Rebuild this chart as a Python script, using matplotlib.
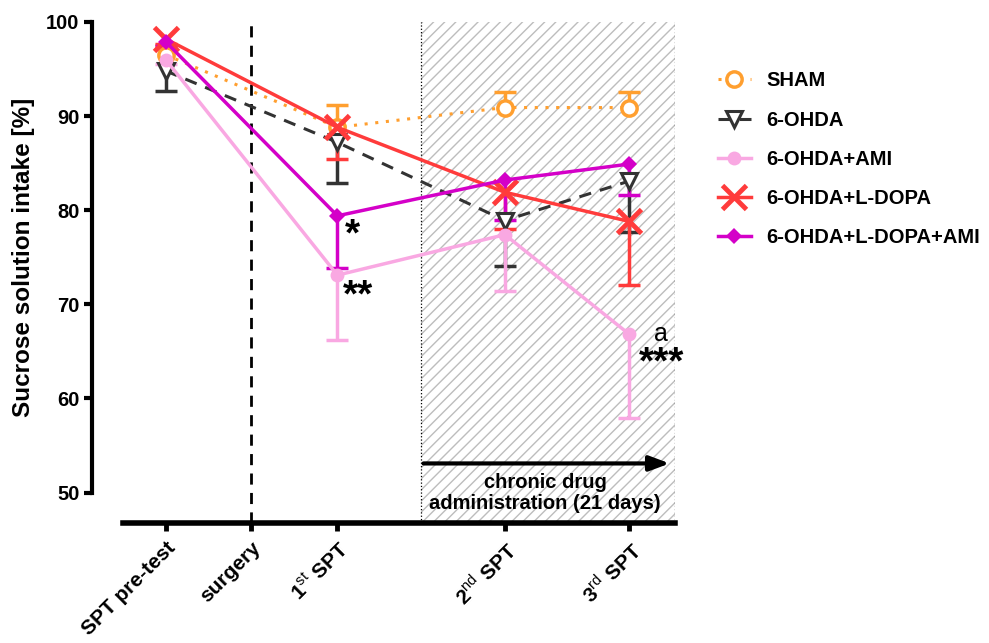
import matplotlib.pyplot as plt
import numpy as np

plt.rcParams['font.family'] = ['Liberation Sans', 'DejaVu Sans']
plt.rcParams['mathtext.fontset'] = 'custom'
plt.rcParams['mathtext.rm'] = 'Liberation Sans'
plt.rcParams['hatch.linewidth'] = 1.0

# x positions of the time points (surgery has no data)
x_pos = np.array([0, 2, 3.95, 5.4])
surgery_x = 1
tick_pos = [0, 1, 2, 3.95, 5.4]
tick_labels = ["SPT pre-test", "surgery", r"1$^{\rm st}$ SPT", r"2$^{\rm nd}$ SPT", r"3$^{\rm rd}$ SPT"]
y_ticks = [50, 60, 70, 80, 90, 100]

groups = ["SHAM", "6-OHDA", "6-OHDA+AMI", "6-OHDA+L-DOPA", "6-OHDA+L-DOPA+AMI"]
means = {
    "SHAM": [96.5, 88.8, 90.9, 90.9],
    "6-OHDA": [94.8, 87.2, 78.9, 83.1],
    "6-OHDA+AMI": [96.0, 73.1, 77.4, 66.8],
    "6-OHDA+L-DOPA": [98.2, 88.8, 81.9, 78.8],
    "6-OHDA+L-DOPA+AMI": [97.9, 79.4, 83.2, 84.9],
}
# one-sided SEM as drawn (positive = upward, negative = downward)
errs = {
    "SHAM": [1.0, 2.4, 1.6, 1.6],
    "6-OHDA": [-2.1, -4.3, -4.8, -5.4],
    "6-OHDA+AMI": [-0.5, -6.9, -6.0, -8.9],
    "6-OHDA+L-DOPA": [-0.5, -3.4, -3.9, -6.7],
    "6-OHDA+L-DOPA+AMI": [-0.5, -5.5, -4.2, -3.3],
}

styles = {
    "SHAM": dict(color='#FF9F2F', ls=(0, (1, 2.5)), lw=2.2, marker='o', ms=11, mfc='white', mew=2.5),
    "6-OHDA": dict(color='#333333', ls=(0, (4, 3)), lw=2.2, marker='v', ms=12, mfc='white', mew=2.2),
    "6-OHDA+AMI": dict(color='#F9A8E2', ls='-', lw=2.5, marker='o', ms=10, mfc='#F9A8E2', mew=0),
    "6-OHDA+L-DOPA": dict(color='#FF3B3B', ls='-', lw=2.5, marker='x', ms=17, mew=3.5),
    "6-OHDA+L-DOPA+AMI": dict(color='#D400C8', ls='-', lw=2.5, marker='D', ms=8, mfc='#D400C8', mew=0),
}

fig = plt.figure(figsize=(9.89, 6.43), dpi=100)
ax = fig.add_axes([0.124, 0.187, 0.5585, 0.779])

# chronic drug administration region
ax.axvspan(2.97, 5.93, facecolor='white', edgecolor='#BDBDBD', hatch='///', lw=0, zorder=0)
ax.axvline(2.97, color='black', ls=':', lw=0.9, zorder=1)
ax.axvline(5.93, color='black', ls=':', lw=0.9, zorder=1)
ax.axvline(surgery_x, color='black', ls=(0, (4, 3)), lw=2, zorder=1)

for g in groups:
    st = styles[g]
    m = np.array(means[g])
    e = np.array(errs[g])
    ax.vlines(x_pos, m, m + e, color=st['color'], lw=2.5, zorder=2)
    ax.plot(x_pos, m + e, ls='none', marker='_', ms=16, mew=2.5, color=st['color'], zorder=2)
    ax.plot(x_pos, m, label=g, zorder=3, **st)

ax.annotate('', xy=(5.9, 53.1), xytext=(2.97, 53.1),
            arrowprops=dict(arrowstyle='-|>,head_length=1.2,head_width=0.45', lw=3, color='black'))
ax.text(4.42, 50.0, "chronic drug\nadministration (21 days)", ha='center', va='center',
        fontsize=14.5, fontweight='bold', linespacing=1.15)

ax.text(2.17, 77.3, "*", fontsize=28, fontweight='bold', ha='center', va='center')
ax.text(2.24, 70.8, "**", fontsize=28, fontweight='bold', ha='center', va='center')
ax.text(5.77, 66.9, "a", fontsize=18, ha='center', va='center')
ax.text(5.77, 63.7, "***", fontsize=28, fontweight='bold', ha='center', va='center')

for s in ['top', 'right']:
    ax.spines[s].set_visible(False)
ax.spines['left'].set_position(('outward', 22))
ax.spines['left'].set_bounds(50, 100)
ax.spines['left'].set_linewidth(3)
ax.spines['bottom'].set_linewidth(4)

ax.set_xlim(-0.5, 5.93)
ax.set_ylim(46.8, 100)
ax.set_yticks(y_ticks)
ax.set_yticklabels([str(v) for v in y_ticks], fontsize=14.5, fontweight='bold')
ax.set_xticks(tick_pos)
ax.set_xticklabels(tick_labels, rotation=45, ha='right', rotation_mode='anchor',
                   fontsize=15, fontweight='bold')
ax.set_ylabel("Sucrose solution intake [%]", fontsize=17.5, fontweight='bold')
ax.yaxis.set_label_coords(-0.158, 0.53)
ax.tick_params(axis='y', width=3, length=6, pad=3)
ax.tick_params(axis='x', width=3.5, length=6, pad=5)

ax.legend(loc='upper left', bbox_to_anchor=(0.708, 0.917), bbox_transform=fig.transFigure,
          frameon=False, prop=dict(weight='bold', size=14.5), labelspacing=1.0,
          handlelength=1.6, handletextpad=0.8, numpoints=1)

fig.savefig('out.png', dpi=100)
